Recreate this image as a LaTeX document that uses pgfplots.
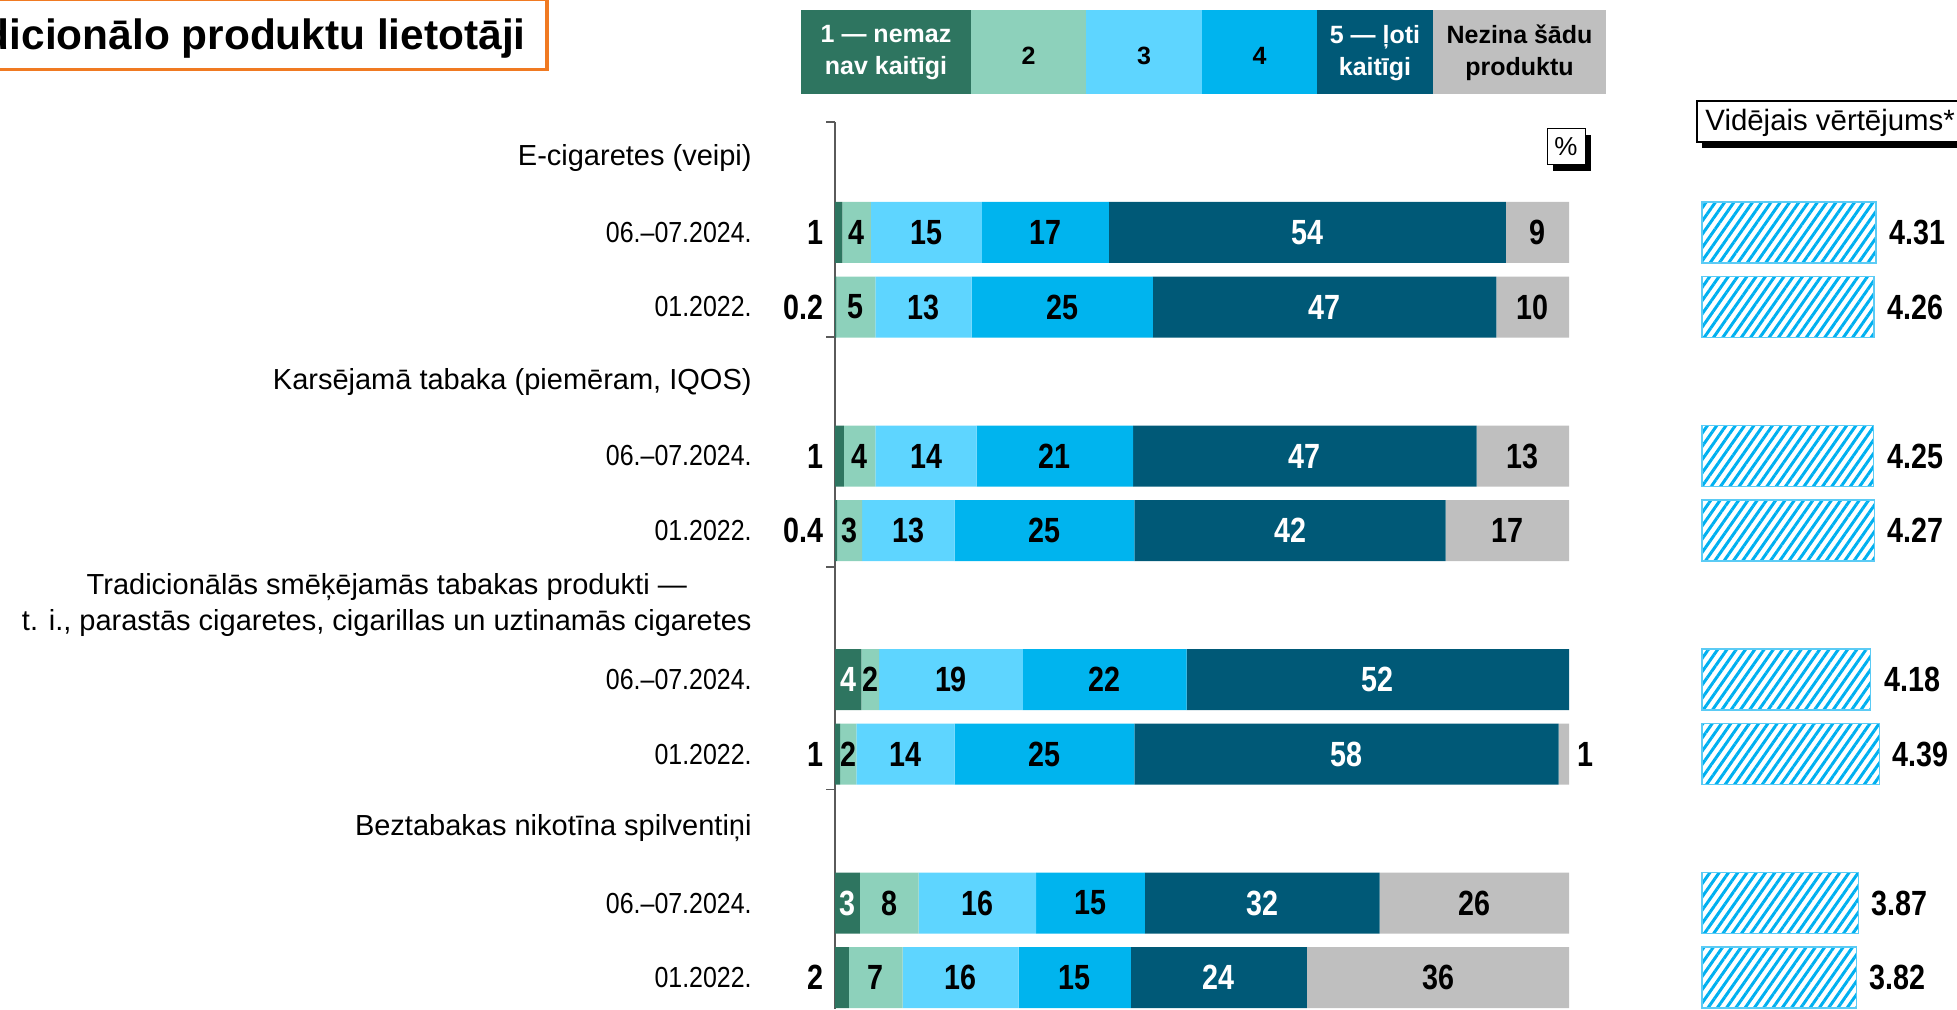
\documentclass[border=0pt]{standalone}
\usepackage{fontspec}
\setmainfont{Liberation Sans}
\newfontfamily\narrowfont{Liberation Sans}[FakeStretch=0.82]
\newfontfamily\datefont{Liberation Sans}[FakeStretch=0.86]
\usepackage{pgfplots}
\pgfplotsset{compat=1.18}
\usepackage{pgfplotstable}
\usetikzlibrary{patterns.meta}

\definecolor{c1}{RGB}{46,117,96}
\definecolor{c2}{RGB}{141,209,187}
\definecolor{c3}{RGB}{94,213,255}
\definecolor{c4}{RGB}{0,180,238}
\definecolor{c5}{RGB}{0,89,119}
\definecolor{c6}{RGB}{191,191,191}
\definecolor{hatch}{RGB}{0,176,240}
\definecolor{hatchborder}{RGB}{91,203,245}
\definecolor{axisgray}{RGB}{90,90,90}
\definecolor{titleorange}{RGB}{240,122,34}

\newcommand{\labfont}{\narrowfont\bfseries\fontsize{17.5pt}{17.5pt}\selectfont}
\newcommand{\legfont}{\bfseries\fontsize{12.5pt}{16pt}\selectfont}
\newcommand{\dt}[1]{{\datefont #1}}

\pgfplotstableread{
y a b c d e f
1 1.0 3.9 15.1 17.3 54.1 8.6
2 0.2 5.3 13.1 24.7 46.8 9.9
4 1.2 4.3 13.8 21.3 46.8 12.6
5 0.3 3.4 12.6 24.5 42.4 16.8
7 3.6 2.4 19.6 22.3 52.1 0
8 0.7 2.2 13.4 24.5 57.8 1.4
10 3.4 8.0 16.0 14.8 32.0 25.8
11 1.9 7.3 15.8 15.3 24.0 35.7
}\shares

\pgfplotstableread{
x y lab
2.95 1 4
12.45 1 15
28.65 1 17
95.7 1 9
2.85 2 5
12.05 2 13
30.95 2 25
95.05 2 10
3.35 4 4
12.4 4 14
29.95 4 21
93.7 4 13
2.0 5 3
10.0 5 13
28.55 5 25
91.6 5 17
4.8 7 2
15.8 7 19
36.75 7 22
1.8 8 2
9.6 8 14
28.55 8 25
7.4 10 8
19.4 10 16
34.8 10 15
87.1 10 26
5.55 11 7
17.1 11 16
32.65 11 15
82.15 11 36
}\blackLabels

\pgfplotstableread{
x y lab
64.35 1 54
66.7 2 47
64.0 4 47
62.0 5 42
1.8 7 4
73.95 7 52
69.7 8 58
1.7 10 3
58.2 10 32
52.3 11 24
}\whiteLabels

\pgfplotstableread{
x y lab
0 1 1
0 2 0.2
0 4 1
0 5 0.4
0 8 1
0 11 2
}\leftLabels

\pgfplotstableread{
x y lab
100 8 1
}\rightLabels

\pgfplotstableread{
y v
1 4.31
2 4.26
4 4.25
5 4.27
7 4.18
8 4.39
10 3.87
11 3.82
}\means

\begin{document}
\begin{tikzpicture}[x=0.5pt,y=0.5pt]
\useasboundingbox (0,0) rectangle (1957,1009);
\clip (0,0) rectangle (1957,1009);

% title box
\draw[titleorange, line width=1.65pt] (-40,1010) rectangle (547,{1009-69.3});
\node[anchor=base east, inner sep=0pt, font=\bfseries\fontsize{21.2pt}{24pt}\selectfont] at (526,{1009-50}) {Tradicionālo produktu lietotāji};

% legend
\fill[c1] (801,{1009-10}) rectangle (971,{1009-94});
\fill[c2] (971,{1009-10}) rectangle (1086,{1009-94});
\fill[c3] (1086,{1009-10}) rectangle (1202,{1009-94});
\fill[c4] (1202,{1009-10}) rectangle (1317,{1009-94});
\fill[c5] (1317,{1009-10}) rectangle (1433,{1009-94});
\fill[c6] (1433,{1009-10}) rectangle (1606,{1009-94});
\node[font=\legfont, text=white, align=center] at (886,{1009-53}) {1 — nemaz\\nav kaitīgi};
\node[font=\legfont, text=black] at (1028.5,{1009-56}) {2};
\node[font=\legfont, text=black] at (1144,{1009-56}) {3};
\node[font=\legfont, text=black] at (1259.5,{1009-56}) {4};
\node[font=\legfont, text=white, align=center] at (1375,{1009-53}) {5 — ļoti\\kaitīgi};
\node[font=\legfont, text=black, align=center] at (1519.5,{1009-53}) {Nezina šādu\\produktu};

% percent box
\fill[black] (1553,{1009-135}) rectangle (1591,{1009-171});
\draw[fill=white, line width=0.5pt] (1547,{1009-129}) rectangle (1585,{1009-165});
\node[font=\fontsize{13pt}{13pt}\selectfont] at (1566,{1009-147}) {\%};

% mean header box
\fill[black] (1702,{1009-107}) rectangle (1975,{1009-148});
\draw[fill=white, line width=0.6pt] (1697,{1009-101}) rectangle (1970,{1009-142});
\node[anchor=base west, inner sep=0pt, font=\fontsize{14.7pt}{16pt}\selectfont] at (1705,{1009-131}) {Vidējais vērtējums*};

% main stacked bars
\begin{axis}[
  at={(417.5pt,443.5pt)}, anchor=north west,
  scale only axis, width=367pt, height=443.4pt,
  xbar stacked, bar width=30.5pt,
  xmin=0, xmax=100, ymin=-0.483, ymax=11.42, y dir=reverse,
  axis x line=none, axis y line=left,
  axis line style={-, draw=axisgray, line width=0.6pt},
  ytick={0,...,11},
  yticklabels={E-cigaretes (veipi), \dt{06.–07.2024.}, \dt{01.2022.},
    {Karsējamā tabaka (piemēram, IQOS)}, \dt{06.–07.2024.}, \dt{01.2022.},
    {Tradicionālās smēķējamās tabakas produkti —\\t. i., parastās cigaretes, cigarillas un uztinamās cigaretes}, \dt{06.–07.2024.}, \dt{01.2022.},
    Beztabakas nikotīna spilventiņi, \dt{06.–07.2024.}, \dt{01.2022.}},
  major tick length=0pt,
  tick style={draw=axisgray, line width=0.6pt},
  yticklabel style={font=\fontsize{14.5pt}{18.25pt}\selectfont, align=center, anchor=east, inner sep=0pt, xshift=-41.5pt},
  extra y ticks={-0.483,2.403,5.49,8.48},
  extra y tick labels={},
  extra y tick style={major tick length=4.5pt, tick align=outside},
  clip=false,
]
\addplot[fill=c1, draw=none] table[x=a, y=y]{\shares};
\addplot[fill=c2, draw=none] table[x=b, y=y]{\shares};
\addplot[fill=c3, draw=none] table[x=c, y=y]{\shares};
\addplot[fill=c4, draw=none] table[x=d, y=y]{\shares};
\addplot[fill=c5, draw=none] table[x=e, y=y]{\shares};
\addplot[fill=c6, draw=none] table[x=f, y=y]{\shares};
\end{axis}

% value labels
\begin{axis}[
  at={(417.5pt,443.5pt)}, anchor=north west,
  scale only axis, width=367pt, height=443.4pt,
  xmin=0, xmax=100, ymin=-0.483, ymax=11.42, y dir=reverse,
  hide axis, clip=false,
]
\addplot[draw=none, mark=none, point meta=explicit symbolic, nodes near coords,
  every node near coord/.style={anchor=center, inner sep=0pt, text=black, font=\labfont}]
  table[x=x, y=y, meta=lab]{\blackLabels};
\addplot[draw=none, mark=none, point meta=explicit symbolic, nodes near coords,
  every node near coord/.style={anchor=center, inner sep=0pt, text=white, font=\labfont}]
  table[x=x, y=y, meta=lab]{\whiteLabels};
\addplot[draw=none, mark=none, point meta=explicit symbolic, nodes near coords,
  every node near coord/.style={anchor=east, inner sep=0pt, xshift=-5.5pt, text=black, font=\labfont}]
  table[x=x, y=y, meta=lab]{\leftLabels};
\addplot[draw=none, mark=none, point meta=explicit symbolic, nodes near coords,
  every node near coord/.style={anchor=west, inner sep=0pt, xshift=4pt, text=black, font=\labfont}]
  table[x=x, y=y, meta=lab]{\rightLabels};
\end{axis}

% mean rating bars
\begin{axis}[
  at={(851pt,443.5pt)}, anchor=north west,
  scale only axis, width=100.875pt, height=443.4pt,
  xbar, bar width=30.5pt,
  xmin=0, xmax=5, ymin=-0.483, ymax=11.42, y dir=reverse,
  hide axis, clip=false,
  /pgf/number format/assume math mode=true,
]
\addplot[draw=hatchborder, line width=0.6pt,
  pattern={Lines[angle=55, distance=3.8pt, line width=1.5pt]}, pattern color=hatch,
  point meta=x,
  nodes near coords={\pgfmathprintnumber[fixed, precision=2, fixed zerofill]{\pgfplotspointmeta}},
  every node near coord/.style={anchor=west, inner sep=0pt, xshift=6.5pt, text=black, font=\labfont}]
  table[x=v, y=y]{\means};
\end{axis}
\end{tikzpicture}
\end{document}
